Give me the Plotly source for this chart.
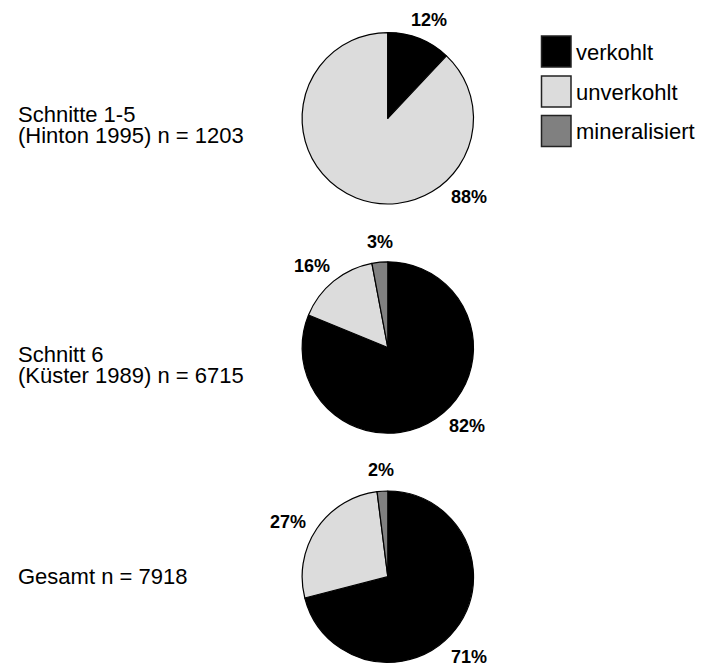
import plotly.graph_objects as go

W, H = 706, 666

categories = ["verkohlt", "unverkohlt", "mineralisiert"]
colors = ["#000000", "#dcdcdc", "#808080"]

pie_titles = [
    ["Schnitte 1-5", "(Hinton 1995) n = 1203"],
    ["Schnitt 6", "(Küster 1989) n = 6715"],
    ["Gesamt n = 7918"],
]
values_1 = [12, 88, 0]
values_2 = [82, 16, 3]
values_3 = [71, 27, 2]
labels_1 = ["12%", "88%", ""]
labels_2 = ["82%", "16%", "3%"]
labels_3 = ["71%", "27%", "2%"]

all_values = [values_1, values_2, values_3]
all_labels = [labels_1, labels_2, labels_3]

# layout (pixels)
cx = 387.8
cys = [118.3, 347.5, 576.7]
R = 85.7
# label offsets relative to pie center, per slice
label_offsets = [
    [(41.5, -98), (81, 79), (0, 0)],
    [(79, 78.5), (-76, -81.5), (-8, -105.5)],
    [(81, 80), (-100, -55), (-7, -107)],
]
title_lines_y = [[113.8, 134.5], [353.8, 374.5], [575.5]]


def px(x):
    return x / W


def py(y):
    return 1 - y / H


fig = go.Figure()
annotations = []
for i, (vals, labs) in enumerate(zip(all_values, all_labels)):
    cy = cys[i]
    fig.add_trace(go.Pie(
        labels=categories,
        values=vals,
        sort=False,
        direction="clockwise",
        rotation=0,
        marker=dict(colors=colors, line=dict(color="#000000", width=1.2)),
        textinfo="none",
        hoverinfo="skip",
        showlegend=False,
        domain=dict(x=[px(cx - R), px(cx + R)], y=[py(cy + R), py(cy - R)]),
    ))
    for lab, (dx, dy) in zip(labs, label_offsets[i]):
        if lab:
            annotations.append(dict(
                x=px(cx + dx), y=py(cy + dy), xref="paper", yref="paper",
                text=f"<b>{lab}</b>", showarrow=False,
                xanchor="center", yanchor="middle",
                font=dict(size=18, color="#000000"),
            ))
    for line, ly in zip(pie_titles[i], title_lines_y[i]):
        annotations.append(dict(
            x=px(16), y=py(ly + 1), xref="paper", yref="paper",
            text=line, showarrow=False, xanchor="left", yanchor="middle",
            font=dict(size=22, color="#000000"),
        ))

# legend drawn manually
shapes = []
box_tops = [36, 76, 115.5]
for cat, col, top in zip(categories, colors, box_tops):
    shapes.append(dict(
        type="rect", xref="paper", yref="paper",
        x0=px(541.5), x1=px(571), y0=py(top + 31), y1=py(top),
        fillcolor=col, line=dict(color="#222222", width=1.5),
    ))
    annotations.append(dict(
        x=px(574), y=py(top + 15.5 + 1), xref="paper", yref="paper",
        text=cat, showarrow=False, xanchor="left", yanchor="middle",
        font=dict(size=22, color="#000000"),
    ))

fig.update_layout(
    width=W, height=H,
    margin=dict(l=0, r=0, t=0, b=0),
    paper_bgcolor="white", plot_bgcolor="white",
    font=dict(family="Liberation Sans, Arial, sans-serif"),
    annotations=annotations,
    shapes=shapes,
)

fig.write_html("out.html")
